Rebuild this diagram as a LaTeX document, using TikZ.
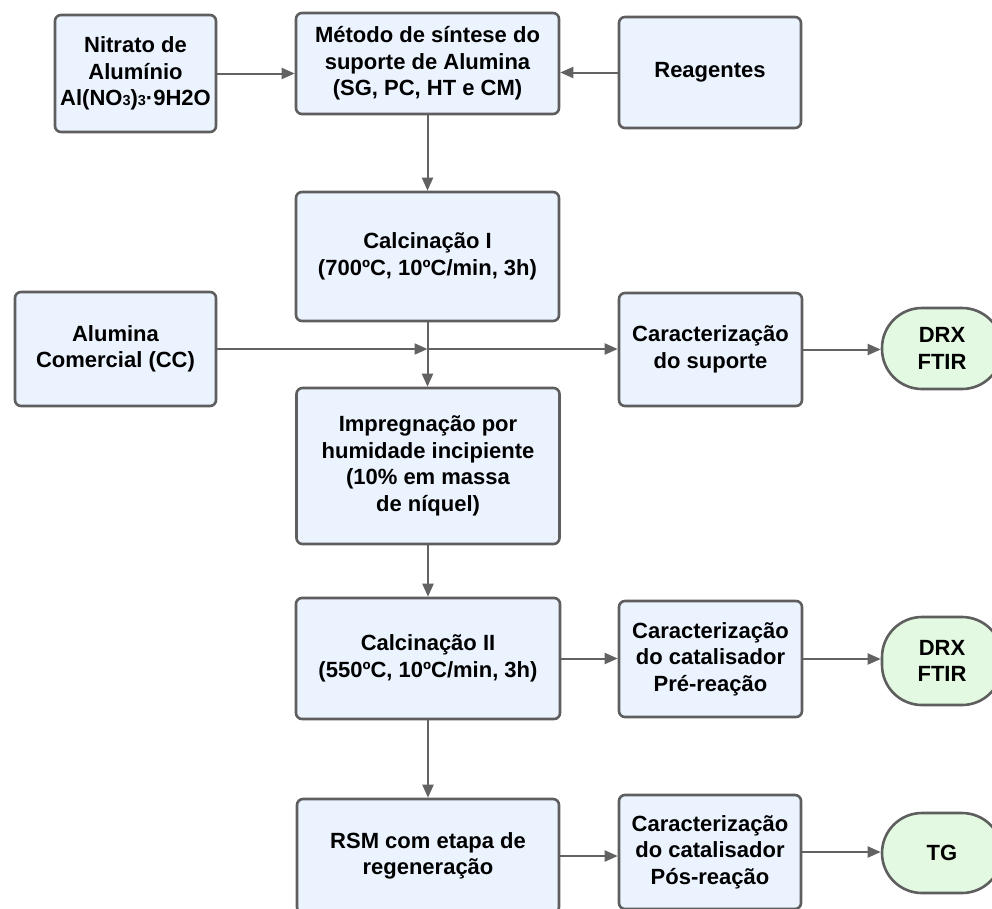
\documentclass[tikz,border=0pt]{standalone}
\usepackage{fontspec}
\setmainfont{Liberation Sans}
\usetikzlibrary{arrows.meta}
\definecolor{boxfill}{RGB}{235,243,255}
\definecolor{boxline}{RGB}{94,94,94}
\definecolor{endfill}{RGB}{227,249,225}
\definecolor{arrowc}{RGB}{98,98,98}
\newcommand{\subthree}{{\fontsize{14.5}{14.5}\selectfont 3}}
\begin{document}
\begin{tikzpicture}[x=1pt,y=-1pt,
  stepbox/.style={draw=boxline, line width=2.6pt, fill=boxfill, rounded corners=6pt,
    align=center, inner sep=0pt, font=\fontsize{22}{26.5}\selectfont\bfseries},
  endbox/.style={draw=boxline, line width=2.6pt, fill=endfill, rounded corners=40pt,
    align=center, inner sep=0pt, minimum width=120pt, font=\fontsize{22}{26.5}\selectfont\bfseries},
  flow/.style={draw=arrowc, line width=2pt, -{Triangle[length=13pt,width=11pt]}}
]
\useasboundingbox (0,0) rectangle (992,908);
\clip (0,0) rectangle (992,908);

% top row
\node[stepbox, minimum width=161pt, minimum height=117pt] (nit) at (135.5,73.5)
  {Nitrato de\\Alumínio\\Al(NO\subthree)\subthree·9H2O};
\node[stepbox, minimum width=263pt, minimum height=101pt] (met) at (427.5,63.5)
  {Método de síntese do\\suporte de Alumina\\(SG, PC, HT e CM)};
\node[stepbox, minimum width=182pt, minimum height=111pt] (rea) at (710,72.5)
  {Reagentes};

% main column
\node[stepbox, minimum width=263pt, minimum height=129pt] (cal1) at (427.5,256.5)
  {Calcinação I\\(700ºC, 10ºC/min, 3h)};
\node[stepbox, minimum width=263pt, minimum height=156pt] (imp) at (428,466)
  {Impregnação por\\humidade incipiente\\(10\% em massa\\de níquel)};
\node[stepbox, minimum width=264pt, minimum height=121pt] (cal2) at (428,658.5)
  {Calcinação II\\(550ºC, 10ºC/min, 3h)};
\node[stepbox, minimum width=262pt, minimum height=114pt] (rsm) at (428,856)
  {RSM com etapa de\\regeneração};

% side inputs and characterisation
\node[stepbox, minimum width=201pt, minimum height=114pt] (alc) at (115.5,349)
  {Alumina\\Comercial (CC)};
\node[stepbox, minimum width=183pt, minimum height=113pt] (carsup) at (710.5,349.5)
  {Caracterização\\do suporte};
\node[stepbox, minimum width=183pt, minimum height=116pt] (carpre) at (710.5,659)
  {Caracterização\\do catalisador\\Pré-reação};
\node[stepbox, minimum width=182pt, minimum height=114pt] (carpos) at (710,852)
  {Caracterização\\do catalisador\\Pós-reação};

% analysis terminals
\node[endbox, minimum height=81pt] (drx1) at (942,348.5) {DRX\\FTIR};
\node[endbox, minimum height=88pt] (drx2) at (942,661) {DRX\\FTIR};
\node[endbox, minimum height=80pt] (tg) at (942,853) {TG};

\coordinate (junc) at (427.5,349);

% connectors
\draw[flow] (nit.east) -- (met.west |- nit.east);
\draw[flow] (rea.west) -- (met.east |- rea.west);
\draw[flow] (met.south) -- (cal1.north);
\draw[flow] (cal1.south) -- (cal1.south |- imp.north);
\draw[flow] (alc.east) -- (junc);
\draw[flow] (junc) -- (carsup.west |- junc);
\draw[flow] (carsup.east) -- (drx1.west |- carsup.east);
\draw[flow] (imp.south) -- (imp.south |- cal2.north);
\draw[flow] (cal2.east) -- (carpre.west |- cal2.east);
\draw[flow] (carpre.east) -- (drx2.west |- carpre.east);
\draw[flow] (cal2.south) -- (cal2.south |- rsm.north);
\draw[flow] (rsm.east) -- (carpos.west |- rsm.east);
\draw[flow] (carpos.east) -- (tg.west |- carpos.east);
\end{tikzpicture}
\end{document}
